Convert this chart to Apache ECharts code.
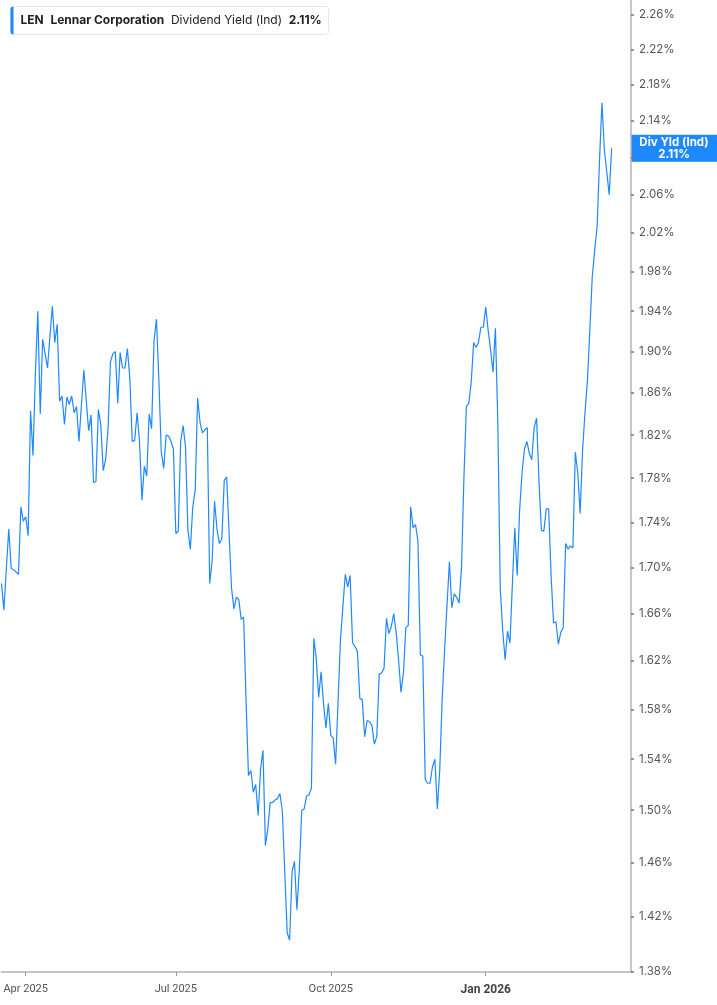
<!DOCTYPE html>
<html>
<head>
<meta charset="utf-8">
<script src="https://cdn.jsdelivr.net/npm/echarts@6/dist/echarts.min.js"></script>
<style>
  html, body { margin: 0; padding: 0; background: #fff; }
  #main { width: 717px; height: 1005px; }
</style>
</head>
<body>
<div id="main"></div>
<script>
// trading days, Mar 18 2025 .. Mar 31 2026 (axis runs past the last value)
var startDate = '2025-03-18';
var endDate = '2026-03-31';
var holidays = ['2025-04-18', '2025-05-26', '2025-06-19', '2025-07-04', '2025-09-01',
    '2025-11-27', '2025-12-25', '2026-01-01', '2026-01-19', '2026-02-16'];

// dividend yield (ind), %, one per trading day from startDate
var yieldValues = [
    1.686, 1.663, 1.699, 1.734, 1.699, 1.698, 1.696, 1.694, 1.754, 1.741,
    1.745, 1.728, 1.843, 1.801, 1.879, 1.940, 1.840, 1.912, 1.898, 1.884,
    1.915, 1.945, 1.909, 1.927, 1.852, 1.857, 1.830, 1.856, 1.849, 1.857,
    1.841, 1.847, 1.814, 1.848, 1.882, 1.853, 1.824, 1.839, 1.776, 1.777,
    1.844, 1.830, 1.787, 1.797, 1.825, 1.890, 1.898, 1.900, 1.850, 1.899,
    1.884, 1.884, 1.903, 1.874, 1.814, 1.815, 1.841, 1.814, 1.760, 1.791,
    1.782, 1.840, 1.826, 1.911, 1.932, 1.872, 1.804, 1.789, 1.820, 1.819,
    1.814, 1.807, 1.730, 1.732, 1.814, 1.829, 1.809, 1.733, 1.716, 1.754,
    1.769, 1.855, 1.832, 1.822, 1.825, 1.827, 1.686, 1.706, 1.759, 1.734,
    1.721, 1.725, 1.778, 1.781, 1.730, 1.682, 1.664, 1.674, 1.672, 1.655,
    1.657, 1.588, 1.527, 1.531, 1.514, 1.520, 1.496, 1.532, 1.547, 1.473,
    1.486, 1.506, 1.506, 1.508, 1.509, 1.513, 1.499, 1.453, 1.408, 1.403,
    1.453, 1.461, 1.425, 1.454, 1.500, 1.501, 1.511, 1.512, 1.517, 1.639,
    1.622, 1.590, 1.611, 1.585, 1.565, 1.585, 1.559, 1.557, 1.536, 1.586,
    1.638, 1.666, 1.694, 1.683, 1.693, 1.635, 1.632, 1.628, 1.589, 1.588,
    1.558, 1.571, 1.570, 1.567, 1.552, 1.558, 1.609, 1.610, 1.614, 1.656,
    1.643, 1.649, 1.660, 1.644, 1.621, 1.594, 1.610, 1.648, 1.650, 1.754,
    1.735, 1.738, 1.723, 1.625, 1.624, 1.524, 1.521, 1.521, 1.534, 1.540,
    1.501, 1.531, 1.588, 1.629, 1.667, 1.705, 1.665, 1.677, 1.674, 1.669,
    1.700, 1.781, 1.847, 1.850, 1.870, 1.909, 1.904, 1.909, 1.924, 1.924,
    1.944, 1.921, 1.902, 1.880, 1.923, 1.831, 1.681, 1.646, 1.621, 1.645,
    1.635, 1.685, 1.735, 1.693, 1.751, 1.785, 1.807, 1.814, 1.803, 1.797,
    1.827, 1.836, 1.777, 1.733, 1.732, 1.752, 1.752, 1.693, 1.652, 1.653,
    1.634, 1.644, 1.648, 1.721, 1.716, 1.719, 1.717, 1.804, 1.785, 1.748,
    1.806, 1.841, 1.872, 1.921, 1.975, 2.002, 2.026, 2.097, 2.160, 2.108,
    2.084, 2.060, 2.110
];

var yTicks = [1.38, 1.42, 1.46, 1.50, 1.54, 1.58, 1.62, 1.66, 1.70, 1.74, 1.78, 1.82,
    1.86, 1.90, 1.94, 1.98, 2.02, 2.06, 2.10, 2.14, 2.18, 2.22, 2.26];
var yLabels = yTicks.filter(function (v) { return v !== 2.10; }); // hidden under the value tag
var lastValue = 2.11;
var monthNames = ['Jan', 'Feb', 'Mar', 'Apr', 'May', 'Jun', 'Jul', 'Aug', 'Sep', 'Oct', 'Nov', 'Dec'];

function tradingDays(from, to) {
    var out = [];
    var d = new Date(from + 'T00:00:00Z');
    var end = new Date(to + 'T00:00:00Z');
    while (d <= end) {
        var s = d.toISOString().slice(0, 10);
        var wd = d.getUTCDay();
        if (wd !== 0 && wd !== 6 && holidays.indexOf(s) < 0) out.push(s);
        d.setUTCDate(d.getUTCDate() + 1);
    }
    return out;
}
var dates = tradingDays(startDate, endDate);

// first trading day of each quarter gets a tick + label
function isQuarterStart(index) {
    if (index === 0) return false;
    var m = +dates[index].slice(5, 7);
    var pm = +dates[index - 1].slice(5, 7);
    return m !== pm && (m - 1) % 3 === 0;
}

var myChart = echarts.init(document.getElementById('main'));

var option = {
    animation: false,
    backgroundColor: '#fff',
    textStyle: { fontFamily: 'Inter, Roboto, sans-serif' },
    grid: { left: 1.5, right: 86, top: 0, bottom: 33 },
    xAxis: {
        type: 'category',
        data: dates,
        boundaryGap: false,
        axisLine: { lineStyle: { color: '#b3b3b3', width: 1.5 } },
        axisTick: {
            interval: function (i) { return isQuarterStart(i); },
            length: 4,
            lineStyle: { color: '#999' }
        },
        axisLabel: {
            interval: function (i) { return isQuarterStart(i); },
            margin: 12,
            fontSize: 11,
            color: '#555',
            fontFamily: 'Roboto, sans-serif',
            formatter: function (val) {
                var y = val.slice(0, 4);
                var m = +val.slice(5, 7);
                var txt = monthNames[m - 1] + ' ' + y;
                return m === 1 ? '{b|' + txt + '}' : txt;
            },
            rich: {
                b: { fontSize: 12, fontWeight: 'bold', color: '#444', fontFamily: 'Roboto, sans-serif' }
            }
        },
        splitLine: { show: false }
    },
    yAxis: {
        type: 'log',
        logBase: 10,
        position: 'right',
        min: 1.38,
        max: 2.2775,
        axisLine: { show: true, lineStyle: { color: '#b3b3b3', width: 1.5 } },
        axisTick: {
            show: true,
            customValues: yTicks,
            length: 3,
            lineStyle: { color: '#777', width: 1.5 }
        },
        axisLabel: {
            customValues: yLabels,
            margin: 8,
            fontSize: 11.5,
            color: '#555',
            formatter: function (v) { return v.toFixed(2) + '%'; }
        },
        splitLine: { show: false }
    },
    series: [{
        name: 'Dividend Yield (Ind)',
        type: 'line',
        data: yieldValues,
        showSymbol: false,
        symbol: 'none',
        lineStyle: { color: '#1e88ff', width: 1.2 }
    }],
    graphic: [{
        type: 'group',
        left: 10,
        top: 6,
        children: [
            { type: 'rect', shape: { x: 0, y: 0, width: 318, height: 28, r: 3 },
              style: { fill: '#fff', stroke: '#e4e4e4', lineWidth: 1 } },
            { type: 'rect', shape: { x: 0, y: 0, width: 3, height: 28, r: [3, 0, 0, 3] },
              style: { fill: '#1e88ff' } },
            { type: 'text', x: 10, y: 14,
              style: {
                  text: '{b|LEN}  {b|Lennar Corporation}  {n|Dividend Yield (Ind)}  {b|2.11%}',
                  verticalAlign: 'middle',
                  rich: {
                      b: { fontSize: 12, fontWeight: 'bold', fill: '#222', fontFamily: 'Inter, sans-serif' },
                      n: { fontSize: 12, fill: '#222', fontFamily: 'Inter, sans-serif' }
                  }
              } }
        ]
    }]
};

myChart.setOption(option);

// value tag on the right axis, placed at the last value through the y scale
var tagY = myChart.convertToPixel({ yAxisIndex: 0 }, lastValue);
var axisX = myChart.convertToPixel({ xAxisIndex: 0 }, dates[dates.length - 1]);
var tagW = 717 - axisX;
option.graphic.push({
    type: 'group',
    x: axisX,
    y: tagY,
    z: 100,
    children: [
        { type: 'rect', shape: { x: 0, y: -13.5, width: tagW, height: 27 },
          style: { fill: '#1e88ff' } },
        { type: 'text', x: tagW / 2, y: 0.5,
          style: {
              text: 'Div Yld (Ind)\n' + lastValue.toFixed(2) + '%',
              align: 'center',
              verticalAlign: 'middle',
              fill: '#fff',
              fontSize: 11.5,
              lineHeight: 12.5,
              fontWeight: 'bold',
              fontFamily: 'Inter, sans-serif'
          } }
    ]
});
myChart.setOption(option, true);
</script>
</body>
</html>
